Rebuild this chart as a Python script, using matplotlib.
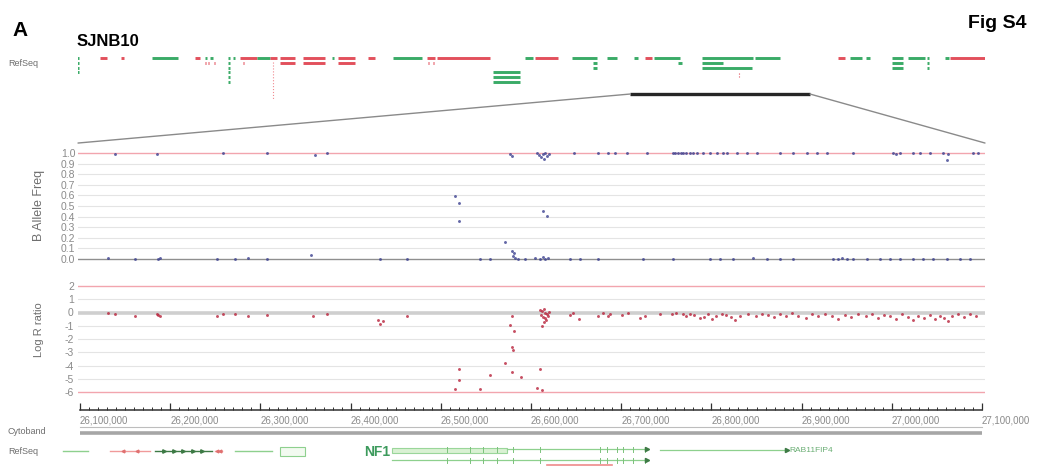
import matplotlib
matplotlib.use("Agg")
import matplotlib.pyplot as plt
from matplotlib.patches import ConnectionPatch, Rectangle
from matplotlib.ticker import MultipleLocator
import numpy as np

plt.rcParams['font.family'] = ['Liberation Sans', 'DejaVu Sans']

# ---------------- data (chr17 coordinates in Mb) ----------------
SAMPLE = "SJNB10"
PANEL_TAG = "A"
FIG_TAG = "Fig S4"

VIEW_START, VIEW_END = 26.1, 27.1            # zoomed window
OVERVIEW_START, OVERVIEW_END = 23.033, 28.072

# overview RefSeq track: (start, end, row, strand)
OVERVIEW_GENES = [
    (23.028, 23.038, 0, '-'), (23.028, 23.038, 1, '-'), (23.028, 23.038, 2, '-'), (23.028, 23.038, 3, '-'),
    (23.155, 23.194, 0, '+'),
    (23.272, 23.289, 0, '+'),
    (23.444, 23.589, 0, '-'),
    (23.683, 23.711, 0, '+'),
    (23.736, 23.750, 0, '-'),
    (23.764, 23.783, 0, '-'),
    (23.736, 23.742, 1, '+'), (23.753, 23.759, 1, '+'), (23.789, 23.795, 1, '+'),
    (23.867, 23.879, 0, '-'), (23.867, 23.879, 1, '-'), (23.867, 23.879, 2, '-'),
    (23.867, 23.879, 3, '-'), (23.867, 23.879, 4, '-'), (23.867, 23.879, 5, '-'),
    (23.894, 23.903, 0, '-'),
    (23.933, 24.028, 0, '+'),
    (24.028, 24.100, 0, '-'),
    (24.100, 24.139, 0, '+'),
    (23.950, 23.956, 1, '+'),
    (24.155, 24.239, 0, '+'), (24.155, 24.239, 1, '+'),
    (24.283, 24.405, 0, '+'), (24.283, 24.405, 1, '+'),
    (24.444, 24.456, 0, '-'),
    (24.477, 24.572, 0, '+'), (24.477, 24.572, 1, '+'),
    (24.644, 24.683, 0, '+'),
    (24.783, 24.944, 0, '-'),
    (24.972, 25.016, 0, '+'),
    (24.976, 24.982, 1, '+'), (25.003, 25.009, 1, '+'),
    (25.027, 25.322, 0, '+'),
    (25.339, 25.489, 3, '-'), (25.339, 25.489, 4, '-'), (25.339, 25.489, 5, '-'),
    (25.516, 25.561, 0, '-'),
    (25.572, 25.700, 0, '+'),
    (25.777, 25.916, 0, '-'),
    (25.894, 25.916, 1, '-'), (25.894, 25.916, 2, '-'),
    (25.972, 26.027, 0, '-'),
    (26.122, 26.144, 0, '-'),
    (26.183, 26.222, 0, '+'),
    (26.233, 26.377, 0, '-'),
    (26.366, 26.389, 1, '-'),
    (26.500, 26.783, 0, '-'),
    (26.500, 26.616, 1, '-'),
    (26.500, 26.777, 2, '-'),
    (26.794, 26.933, 0, '-'),
    (27.255, 27.294, 0, '+'),
    (27.322, 27.389, 0, '-'),
    (27.411, 27.433, 0, '-'),
    (27.555, 27.616, 0, '-'), (27.555, 27.616, 1, '-'), (27.555, 27.616, 2, '-'),
    (27.644, 27.739, 0, '-'),
    (27.750, 27.761, 0, '-'), (27.750, 27.761, 1, '-'), (27.750, 27.761, 2, '-'),
    (27.850, 27.872, 0, '-'),
    (27.878, 28.072, 0, '+'),
]
OVERVIEW_LONG_INTRON = (24.117, 0.8, 8.8)      # position, first row, last row
OVERVIEW_SMALL_MARK = (26.705, 3.2, 4.0)

# B allele frequency probes: (position, BAF)
BAF_POINTS = [
    (26.131, 0.01), (26.139, 0.99), (26.161, 0.00), (26.185, 0.99), (26.186, 0.00),
    (26.189, 0.01), (26.252, 0.00), (26.259, 1.00), (26.272, 0.00), (26.286, 0.01),
    (26.307, 1.00), (26.307, 0.00), (26.356, 0.04), (26.361, 0.98), (26.374, 1.00),
    (26.433, 0.00), (26.463, 0.00),
    (26.516, 0.59), (26.520, 0.53), (26.520, 0.36), (26.543, 0.00), (26.555, 0.00),
    (26.571, 0.16), (26.577, 0.99), (26.579, 0.97), (26.580, 0.03), (26.581, 0.06),
    (26.579, 0.08), (26.582, 0.01), (26.586, 0.00), (26.593, 0.00), (26.604, 0.01),
    (26.607, 1.00), (26.609, 0.98), (26.611, 0.96), (26.613, 0.99), (26.614, 0.94),
    (26.616, 1.00), (26.618, 0.97), (26.620, 0.99), (26.610, 0.00), (26.613, 0.02),
    (26.616, 0.00), (26.619, 0.01), (26.613, 0.45), (26.618, 0.41), (26.643, 0.00),
    (26.648, 1.00), (26.654, 0.00), (26.674, 1.00), (26.674, 0.00), (26.685, 1.00),
    (26.693, 1.00),
    (26.706, 1.00), (26.724, 0.00), (26.729, 1.00), (26.757, 1.00), (26.757, 0.00),
    (26.760, 1.00), (26.763, 1.00), (26.766, 1.00), (26.769, 1.00), (26.772, 1.00),
    (26.776, 1.00), (26.780, 1.00), (26.784, 1.00), (26.791, 1.00), (26.798, 1.00),
    (26.798, 0.00), (26.806, 1.00), (26.810, 0.00), (26.813, 1.00), (26.817, 1.00),
    (26.824, 0.00), (26.828, 1.00), (26.839, 1.00), (26.846, 0.01), (26.851, 1.00),
    (26.862, 0.00), (26.876, 1.00), (26.876, 0.00), (26.890, 1.00), (26.890, 0.00),
    (26.906, 1.00), (26.917, 1.00), (26.928, 1.00), (26.935, 0.00), (26.940, 0.00),
    (26.945, 0.01), (26.950, 0.00), (26.957, 1.00), (26.957, 0.00), (26.973, 0.00),
    (26.987, 0.00), (26.998, 0.00), (27.001, 1.00), (27.005, 0.99), (27.009, 1.00),
    (27.009, 0.00), (27.023, 1.00), (27.023, 0.00), (27.031, 1.00), (27.035, 0.00),
    (27.042, 1.00), (27.046, 0.00), (27.057, 1.00), (27.061, 0.93), (27.062, 0.99),
    (27.061, 0.00), (27.076, 0.00), (27.087, 0.00), (27.090, 1.00), (27.096, 1.00),
]

# Log R ratio probes: (position, log R)
LOGR_POINTS = [
    (26.131, -0.05), (26.139, -0.15), (26.161, -0.30), (26.185, -0.10), (26.187, -0.20),
    (26.189, -0.25), (26.252, -0.30), (26.259, -0.10), (26.272, -0.15), (26.286, -0.25),
    (26.307, -0.20), (26.358, -0.25), (26.374, -0.15), (26.430, -0.55), (26.433, -0.85),
    (26.436, -0.65), (26.463, -0.30),
    (26.516, -5.80), (26.520, -4.30), (26.520, -5.10), (26.543, -5.80), (26.555, -4.70),
    (26.571, -3.80), (26.577, -0.95), (26.579, -0.30), (26.581, -1.40), (26.579, -2.60),
    (26.580, -2.85), (26.579, -4.50), (26.589, -4.90), (26.607, -5.70), (26.612, -5.85),
    (26.610, -4.30), (26.612, -1.00), (26.614, -0.75), (26.610, 0.20), (26.612, 0.10),
    (26.614, 0.25), (26.616, 0.00), (26.618, -0.10), (26.620, 0.05), (26.611, -0.20),
    (26.613, -0.35), (26.615, -0.45), (26.617, -0.55), (26.619, -0.30), (26.643, -0.20),
    (26.647, -0.05), (26.653, -0.50), (26.674, -0.30), (26.685, -0.25),
    (26.680, -0.05), (26.688, -0.10), (26.701, -0.20), (26.708, -0.05), (26.721, -0.45),
    (26.726, -0.30), (26.743, -0.10), (26.756, -0.15), (26.761, -0.05), (26.768, -0.10),
    (26.772, -0.25), (26.776, -0.10), (26.781, -0.20), (26.787, -0.45), (26.792, -0.35),
    (26.796, -0.15), (26.801, -0.50), (26.805, -0.30), (26.812, -0.10), (26.816, -0.20),
    (26.822, -0.35), (26.826, -0.55), (26.832, -0.25), (26.841, -0.15), (26.849, -0.30),
    (26.856, -0.10), (26.863, -0.20), (26.869, -0.35), (26.876, -0.15), (26.883, -0.25),
    (26.889, -0.05), (26.896, -0.30), (26.905, -0.40), (26.912, -0.15), (26.918, -0.25),
    (26.926, -0.10), (26.934, -0.30), (26.940, -0.50), (26.948, -0.20), (26.955, -0.35),
    (26.963, -0.10), (26.971, -0.25), (26.978, -0.15), (26.985, -0.40), (26.991, -0.20),
    (26.998, -0.30), (27.005, -0.50), (27.011, -0.15), (27.018, -0.35), (27.024, -0.60),
    (27.029, -0.25), (27.036, -0.40), (27.042, -0.20), (27.048, -0.50), (27.053, -0.30),
    (27.058, -0.45), (27.062, -0.65), (27.067, -0.30), (27.073, -0.15), (27.080, -0.35),
    (27.087, -0.10), (27.093, -0.25),
]

BAF_TICKS = [0.0, 0.1, 0.2, 0.3, 0.4, 0.5, 0.6, 0.7, 0.8, 0.9, 1.0]
LOGR_TICKS = [2, 1, 0, -1, -2, -3, -4, -5, -6]
RULER_TICKS_BP = [26100000, 26200000, 26300000, 26400000, 26500000, 26600000,
                  26700000, 26800000, 26900000, 27000000, 27100000]

# detailed RefSeq track under the ruler: (start, end, row, kind)
DETAIL_GENES = [
    (26.081, 26.109, 0.6, 'light'),
    (26.133, 26.178, 0.6, 'red'),
    (26.183, 26.246, 0.6, 'dark'),
    (26.250, 26.257, 0.6, 'red'),
    (26.272, 26.313, 0.6, 'light'),
]
DETAIL_BOX = (26.322, 26.349, -0.2, 1.6)
NF1_SPAN = (26.446, 26.729)
NF1_CODING_END = 26.573
NF1_EXONS = [26.507, 26.532, 26.547, 26.562, 26.580, 26.610, 26.676, 26.684,
             26.695, 26.702, 26.713, 26.726]
RAB11FIP4_SPAN = (26.743, 26.884)
RED_FEATURE = (26.618, 26.690)

# ---------------- figure ----------------
W, H = 1037, 466
fig = plt.figure(figsize=(W / 100, H / 100), dpi=100)

RED = '#e2505c'
GREEN = '#3aab67'
GRID = '#e4e4e4'
PINK = '#f2a5ae'
TICKC = '#8a8a8a'
LABC = '#6e6e6e'


def px_axes(x0, y0, x1, y1):
    ax = fig.add_axes([x0 / W, 1 - y1 / H, (x1 - x0) / W, (y1 - y0) / H])
    ax.set_facecolor('none')
    for s in ax.spines.values():
        s.set_visible(False)
    ax.set_xticks([])
    ax.set_yticks([])
    return ax


def ftext(x, y, s, **kw):
    fig.text(x / W, 1 - y / H, s, **kw)


DATA_XLIM = (VIEW_START - 2 / 902, VIEW_END + 3 / 902)

# titles
ftext(12, 30, PANEL_TAG, fontsize=15, fontweight='bold', va='center', ha='left')
ftext(77, 41, SAMPLE, fontsize=12, fontweight='bold', va='center', ha='left')
ftext(1027, 23, FIG_TAG, fontsize=14, fontweight='bold', va='center', ha='right')
ftext(8, 63, 'RefSeq', fontsize=6.5, color=LABC, va='center', ha='left')

# ---- overview track ----
ax_ov = px_axes(78, 50, 985, 104)
ax_ov.set_xlim(OVERVIEW_START, OVERVIEW_END)
ax_ov.set_ylim(9.72, -1.77)
for s, e, r, strand in OVERVIEW_GENES:
    ax_ov.plot([s, e], [r, r], color=RED if strand == '+' else GREEN,
               lw=2.1, solid_capstyle='butt')
pos, r0, r1 = OVERVIEW_LONG_INTRON
ax_ov.plot([pos, pos], [r0, r1], color='#f08a90', lw=0.8, ls=':')
pos, r0, r1 = OVERVIEW_SMALL_MARK
ax_ov.plot([pos, pos], [r0, r1], color=RED, lw=0.8, ls=':')
BAR_ROW = 7.6
ax_ov.plot([VIEW_START, VIEW_END], [BAR_ROW, BAR_ROW], color='#262626', lw=2.4,
           solid_capstyle='butt')

# ---- B allele frequency ----
ax_b = px_axes(78, 147.7, 985, 264.3)
ax_b.set_xlim(*DATA_XLIM)
ax_b.set_ylim(-0.05, 1.05)
for v in BAF_TICKS[1:-1]:
    ax_b.axhline(v, color=GRID, lw=0.8, zorder=0)
ax_b.axhline(1.0, color=PINK, lw=1.0, zorder=0)
ax_b.axhline(0.0, color='#8f8f8f', lw=1.0, zorder=0)
bx, by = zip(*BAF_POINTS)
ax_b.plot(bx, by, ls='none', marker='o', ms=2.1, mew=0, color='#3c4190', alpha=0.8)
ax_b.set_yticks(BAF_TICKS)
ax_b.set_yticklabels([f'{v:.1f}' for v in BAF_TICKS])
ax_b.tick_params(axis='y', length=0, pad=2, labelsize=7.5, labelcolor=TICKC)
ftext(39, 205, 'B Allele Freq', rotation=90, fontsize=9, color=LABC,
      ha='center', va='center')

# ---- Log R ratio ----
ax_l = px_axes(78, 280.7, 985, 397.3)
ax_l.set_xlim(*DATA_XLIM)
ax_l.set_ylim(-6.4, 2.4)
for v in LOGR_TICKS:
    if v in (2, -6):
        ax_l.axhline(v, color=PINK, lw=1.0, zorder=0)
    elif v == 0:
        ax_l.axhline(v, color='#cfcfcf', lw=2.6, zorder=0)
    else:
        ax_l.axhline(v, color=GRID, lw=0.8, zorder=0)
lx, ly = zip(*LOGR_POINTS)
ax_l.plot(lx, ly, ls='none', marker='o', ms=2.1, mew=0, color='#b8233b', alpha=0.8)
ax_l.set_yticks(LOGR_TICKS)
ax_l.set_yticklabels([str(v) for v in LOGR_TICKS])
ax_l.tick_params(axis='y', length=0, pad=3, labelsize=7.5, labelcolor=TICKC)
ftext(39, 330, 'Log R ratio', rotation=90, fontsize=8, color=LABC,
      ha='center', va='center')

# connectors from the overview window to the detail panels
for xa, xb in ((VIEW_START, 0.0), (VIEW_END, 1.0)):
    con = ConnectionPatch(xyA=(xa, BAR_ROW), coordsA=ax_ov.transData,
                          xyB=(xb, 1.04), coordsB=ax_b.transAxes,
                          color='#8a8a8a', lw=1.0)
    fig.add_artist(con)

# ---- coordinate ruler ----
ax_r = fig.add_axes([78 / W, 1 - 410 / H, 907 / W, 12 / H])
ax_r.set_facecolor('none')
ax_r.set_xlim(*DATA_XLIM)
ax_r.set_ylim(0, 1)
for s in ('top', 'left', 'right'):
    ax_r.spines[s].set_visible(False)
ax_r.spines['bottom'].set_bounds(VIEW_START, VIEW_END)
ax_r.spines['bottom'].set_color('#303030')
ax_r.spines['bottom'].set_linewidth(1.1)
ax_r.set_yticks([])
ax_r.set_xticks([v / 1e6 for v in RULER_TICKS_BP])
ax_r.set_xticklabels([f'{v:,}' for v in RULER_TICKS_BP])
for lbl in ax_r.get_xticklabels():
    lbl.set_horizontalalignment('left')
ax_r.xaxis.set_minor_locator(MultipleLocator(0.01))
ax_r.tick_params(axis='x', which='major', direction='in', length=5, width=0.9,
                 color='#303030', pad=4, labelsize=7, labelcolor=TICKC)
ax_r.tick_params(axis='x', which='minor', direction='in', length=2.5, width=0.7,
                 color='#303030')

# ---- cytoband ----
ax_c = px_axes(78, 424, 985, 438)
ax_c.set_xlim(*DATA_XLIM)
ax_c.set_ylim(0, 14)
ax_c.plot([VIEW_START, VIEW_END], [11, 11], color='#bdbdbd', lw=0.8)
ax_c.plot([VIEW_START, VIEW_END], [5, 5], color='#a6a6a6', lw=2.6, solid_capstyle='butt')
ftext(8, 431, 'Cytoband', fontsize=6.5, color=LABC, va='center', ha='left')

# ---- detailed RefSeq ----
ftext(8, 452, 'RefSeq', fontsize=6.5, color=LABC, va='center', ha='left')
ax_g = px_axes(78, 440, 985, 466)
ax_g.set_xlim(*DATA_XLIM)
ax_g.set_ylim(3.6, -1.6)
kind_col = {'light': '#8ed08e', 'red': '#f09a9a', 'dark': '#3d7a45'}
for s, e, r, k in DETAIL_GENES:
    ax_g.plot([s, e], [r, r], color=kind_col[k], lw=1.0, clip_on=False)
    if k == 'dark':
        ax_g.plot(np.linspace(s, e, 7)[1:-1], [r] * 5, ls='none', marker='>',
                  ms=2.5, color='#3d7a45', clip_on=False)
    if k == 'red':
        ax_g.plot(np.linspace(s, e, 4)[1:-1], [r] * 2, ls='none', marker='<',
                  ms=2.0, color='#e07070', clip_on=False)
bs, be, br0, br1 = DETAIL_BOX
ax_g.add_patch(Rectangle((bs, br0), be - bs, br1 - br0, facecolor='#f2faf0',
                         edgecolor='#8ed08e', lw=0.8))

ns, ne = NF1_SPAN
ax_g.add_patch(Rectangle((ns, 0.0), NF1_CODING_END - ns, 1.0, facecolor='#d9f1d3',
                         edgecolor='#9ad69a', lw=0.8))
ax_g.plot([NF1_CODING_END, ne], [0.2, 0.2], color='#8ed08e', lw=0.9)
ax_g.plot([ns, ne], [2.4, 2.4], color='#8ed08e', lw=0.9)
for ex in NF1_EXONS:
    ax_g.plot([ex, ex], [-0.3, 0.7], color='#7cc27c', lw=0.7)
    ax_g.plot([ex, ex], [1.9, 2.9], color='#7cc27c', lw=0.7)
ax_g.plot([ne, ne], [0.2, 2.4], ls='none', marker='>', ms=3, color='#3d7a45')
ax_g.text(ns - 0.002, 0.9, 'NF1', fontsize=10, fontweight='bold', color='#3c9a5c',
          ha='right', va='center')

rs, re_ = RAB11FIP4_SPAN
ax_g.plot([rs, re_], [0.4, 0.4], color='#8ed08e', lw=0.9)
ax_g.plot([re_], [0.4], ls='none', marker='>', ms=3, color='#3d7a45')
ax_g.text(re_ + 0.002, 0.4, 'RAB11FIP4', fontsize=6, color='#6aae74',
          ha='left', va='center')

fs, fe = RED_FEATURE
ax_g.plot([fs, fe], [3.4, 3.4], color='#ef8a8a', lw=1.2, clip_on=False)

fig.savefig('out.png', dpi=100, facecolor='white')
